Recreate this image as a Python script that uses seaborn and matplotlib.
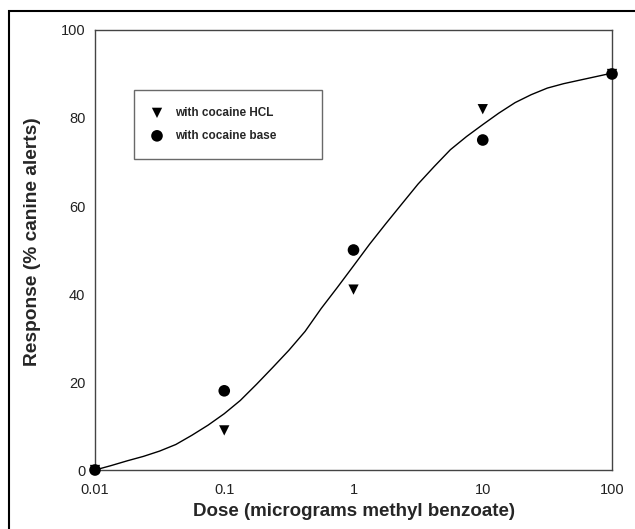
import pandas as pd
import matplotlib
matplotlib.use("Agg")
import matplotlib.pyplot as plt
from matplotlib.patches import Rectangle
import seaborn as sns

# measured points
doses = [0.01, 0.1, 1, 10, 100]
hcl_response = [0, 9, 41, 82, 90]
base_response = [0, 18, 50, 75, 90]

# fitted curve (8 samples per decade)
curve_doses = [0.01, 0.0133, 0.0178, 0.0237, 0.0316, 0.0422, 0.0562, 0.075,
               0.1, 0.133, 0.178, 0.237, 0.316, 0.422, 0.562, 0.75,
               1, 1.33, 1.78, 2.37, 3.16, 4.22, 5.62, 7.5,
               10, 13.3, 17.8, 23.7, 31.6, 42.2, 56.2, 75, 100]
curve_response = [0, 1.0, 2.1, 3.1, 4.3, 5.8, 7.9, 10.2,
                  12.8, 15.8, 19.5, 23.3, 27.2, 31.5, 36.7, 41.5,
                  46.4, 51.3, 56.0, 60.5, 65.0, 69.0, 72.8, 75.8,
                  78.5, 81.1, 83.5, 85.3, 86.8, 87.8, 88.6, 89.4, 90.2]

xtick_labels = ["0.01", "0.1", "1", "10", "100"]
yticks = [0, 20, 40, 60, 80, 100]

sns.set_style("white")
plt.rcParams["font.family"] = ["Liberation Sans", "DejaVu Sans"]

fig = plt.figure(figsize=(6.35, 5.29), dpi=100)
ax = fig.add_axes([0.1496, 0.1115, 0.8142, 0.8318])

curve = pd.DataFrame({"dose": curve_doses, "response": curve_response})
sns.lineplot(data=curve, x="dose", y="response", color="black", lw=1.0,
             ax=ax, zorder=2)

hcl = pd.DataFrame({"dose": doses, "response": hcl_response})
base = pd.DataFrame({"dose": doses, "response": base_response})
sns.scatterplot(data=hcl, x="dose", y="response", marker="v", s=55,
                color="black", edgecolor="none", ax=ax, zorder=3,
                label="with cocaine HCL", clip_on=False)
sns.scatterplot(data=base, x="dose", y="response", marker="o", s=70,
                color="black", edgecolor="none", ax=ax, zorder=4,
                label="with cocaine base", clip_on=False)

ax.set_xscale("log")
ax.set_xlim(0.01, 100)
ax.set_ylim(0, 100)
ax.set_xticks(doses)
ax.set_xticklabels(xtick_labels)
ax.minorticks_off()
ax.set_yticks(yticks)

ax.tick_params(axis="x", direction="in", length=7, width=1, color="#bbbbbb",
               pad=9, labelsize=10.5, labelcolor="#222222")
ax.tick_params(axis="y", direction="out", length=5, width=1, color="#777777",
               pad=2, labelsize=10.5, labelcolor="#222222")

for s in ax.spines.values():
    s.set_color("#444444")
    s.set_linewidth(1.0)

ax.set_xlabel("Dose (micrograms methyl benzoate)", fontsize=13.5,
              fontweight="bold", labelpad=5)
ax.set_ylabel("Response (% canine alerts)", fontsize=13.8,
              fontweight="bold")
ax.yaxis.set_label_coords(-0.105, 0.518)

leg = ax.legend(loc="upper left", bbox_to_anchor=(0.0754, 0.707, 0.364, 0.157),
                mode="expand", borderaxespad=0, fancybox=False,
                borderpad=1.45, labelspacing=0.93, handlelength=1.0,
                handletextpad=1.0, prop={"weight": "bold", "size": 8.5})
leg.get_frame().set_edgecolor("#444444")
leg.get_frame().set_linewidth(1.0)

# outer frame around the whole figure
fig.patches.append(Rectangle((9 / 635, -0.05), 1.1, 1 - 11 / 529 + 0.05,
                             transform=fig.transFigure, fill=False,
                             edgecolor="black", lw=1.5))

fig.savefig("out.png", dpi=100)
